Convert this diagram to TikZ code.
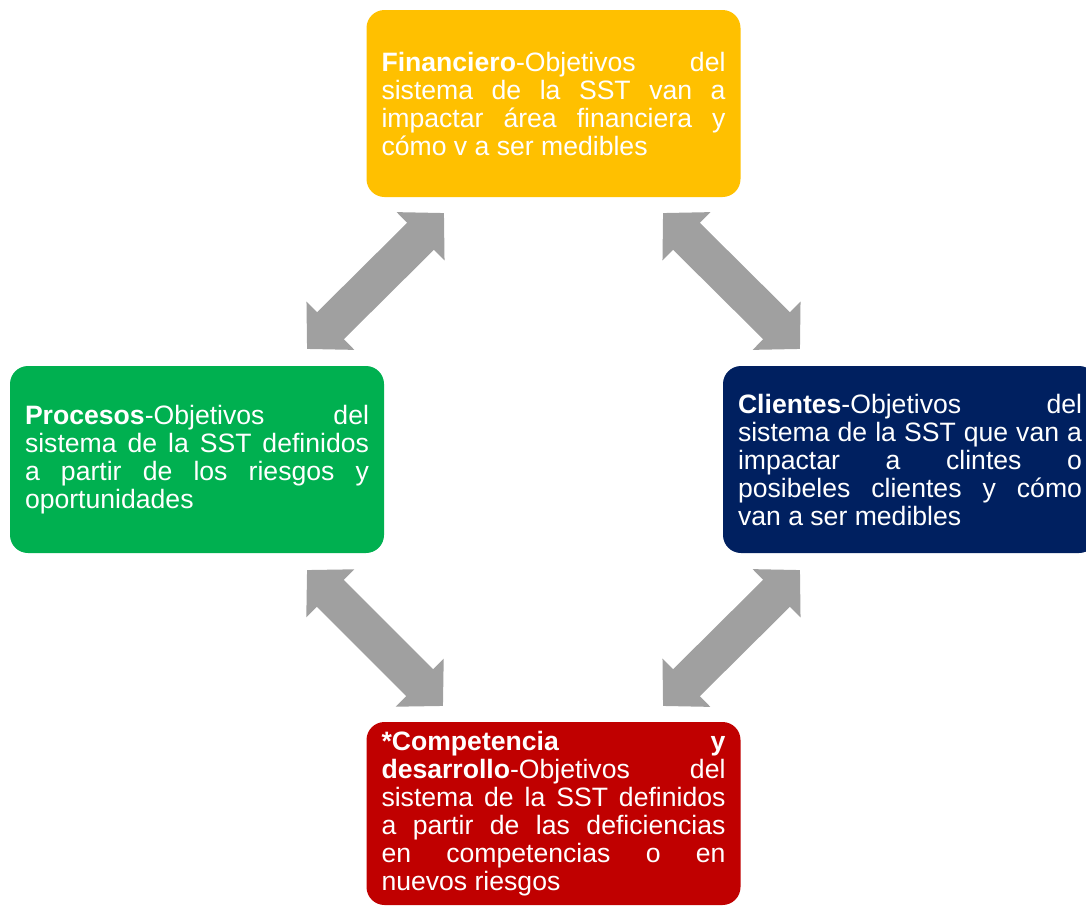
\documentclass[tikz,border=0pt]{standalone}
\usepackage{fontspec}
\setmainfont{Liberation Sans}
\usetikzlibrary{arrows.meta}

\definecolor{finfill}{HTML}{FFC000}
\definecolor{procfill}{HTML}{00B050}
\definecolor{clifill}{HTML}{002060}
\definecolor{compfill}{HTML}{C00000}
\definecolor{linkgray}{HTML}{A0A0A0}

% justified lines with forced breaks and no hyphenation
\tolerance=10000
\hbadness=10000
\hyphenpenalty=10000
\exhyphenpenalty=10000

\begin{document}
\begin{tikzpicture}[x=1pt, y=-1pt,
  box/.style={rounded corners=18pt, text=white, text width=344pt,
    align=justify, minimum width=374pt, minimum height=187pt, inner sep=0pt,
    font=\fontsize{26.6}{28}\selectfont},
  link/.style={draw=linkgray, line width=38pt,
    {Triangle[length=33pt,width=66pt]}-{Triangle[length=33pt,width=66pt]}}]

\useasboundingbox (0,0) rectangle (1086,905);
\clip (0,0) rectangle (1086,905);

% the four perspective boxes
\node[box, fill=finfill] (fin) at (553.5,103.5)
  {\textbf{Financiero}-Objetivos del\linebreak
   sistema de la SST van a\linebreak
   impactar área financiera y\linebreak
   cómo v a ser medibles};

\node[box, fill=procfill] (proc) at (197,459.5)
  {\textbf{Procesos}-Objetivos del\linebreak
   sistema de la SST definidos\linebreak
   a partir de los riesgos y\linebreak
   oportunidades};

\node[box, fill=clifill] (cli) at (910,459.5)
  {\textbf{Clientes}-Objetivos del\linebreak
   sistema de la SST que van a\linebreak
   impactar a clintes o\linebreak
   posibeles clientes y cómo\linebreak
   van a ser medibles};

\node[box, fill=compfill, minimum height=183pt] (comp) at (553.5,813.5)
  {\textbf{*Competencia y\linebreak
   desarrollo}-Objetivos del\linebreak
   sistema de la SST definidos\linebreak
   a partir de las deficiencias\linebreak
   en competencias o en\linebreak
   nuevos riesgos};

% ends of the double arrows between the boxes
\coordinate (fp1) at (444,213);
\coordinate (fp2) at (307,349);
\coordinate (fc1) at (663,213);
\coordinate (fc2) at (800,349);
\coordinate (pc1) at (307,570);
\coordinate (pc2) at (443,706);
\coordinate (cc1) at (800,570);
\coordinate (cc2) at (663,706);

\draw[link] (fp1) -- (fp2);
\draw[link] (fc1) -- (fc2);
\draw[link] (pc1) -- (pc2);
\draw[link] (cc1) -- (cc2);
\end{tikzpicture}
\end{document}
